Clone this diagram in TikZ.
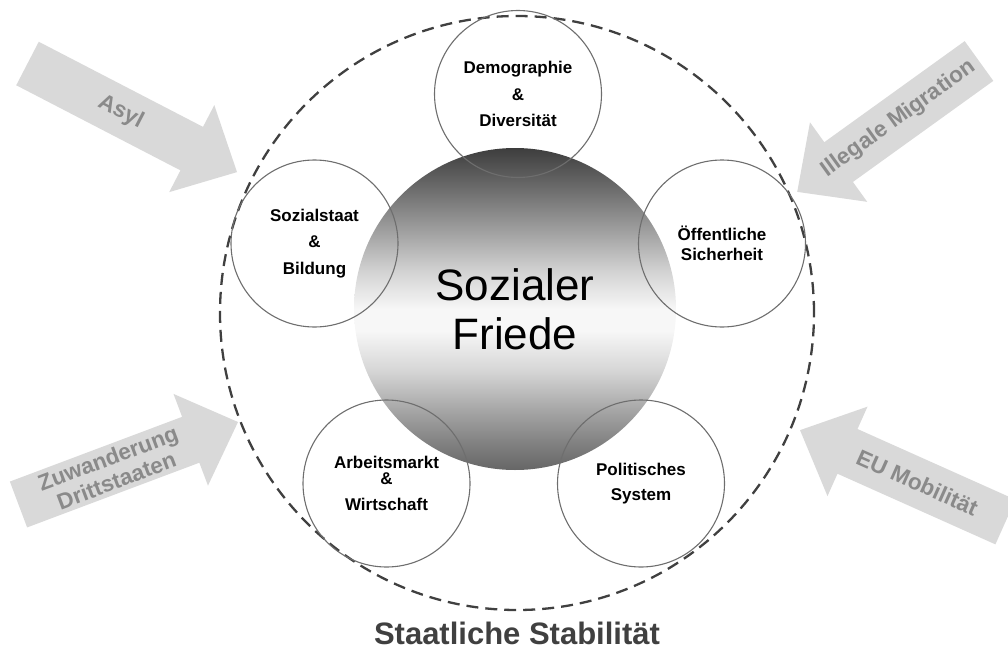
\documentclass[tikz,border=0pt]{standalone}
\usepackage{fontspec}
\setmainfont{Liberation Sans}
\usetikzlibrary{positioning}

\definecolor{pfeilgrau}{HTML}{D9D9D9}
\definecolor{pfeilschrift}{HTML}{8A8A8A}
\definecolor{randgrau}{HTML}{6E6E6E}
\definecolor{strichgrau}{HTML}{404040}

% dark at the top, white a bit above the middle, grey again at the bottom
\pgfdeclareverticalshading{friede}{100bp}{color(0bp)=(black!60); color(25bp)=(black!60);
  color(29.7bp)=(black!48); color(34.3bp)=(black!35); color(40.5bp)=(black!16);
  color(46.7bp)=(black!3); color(50bp)=(black!3); color(56bp)=(black!18);
  color(62.3bp)=(black!38); color(68.5bp)=(black!57); color(75bp)=(black!76);
  color(100bp)=(black!76)}

\begin{document}
\begin{tikzpicture}[x=1pt,y=-1pt,
  thema/.style={circle, draw=randgrau, line width=1.1pt, minimum size=167pt, inner sep=0pt,
    align=center, font=\bfseries\fontsize{17}{26.5}\selectfont},
  pfeil/.style={fill=pfeilgrau},
  pfeiltext/.style={text=pfeilschrift, align=center, transform shape, inner sep=0pt,
    font=\bfseries\fontsize{22.5}{24}\selectfont}]
  \useasboundingbox (0,0) rectangle (1008,650);
  \clip (0,0) rectangle (1008,650);

  % arrows from outside
  \begin{scope}[shift={(27.5,63.5)}, rotate=-27.4]
    \fill[pfeil] (0,-24.5) -- (185,-24.5) -- (185,-49) -- (236,0) -- (185,49) -- (185,24.5) -- (0,24.5) -- cycle;
    \node[pfeiltext] (asyl) at (105,0) {Asyl};
  \end{scope}
  \begin{scope}[shift={(979,61)}, rotate=215.75]
    \fill[pfeil] (0,-24.5) -- (173,-24.5) -- (173,-49) -- (224,0) -- (173,49) -- (173,24.5) -- (0,24.5) -- cycle;
    \node[pfeiltext, rotate=180] (illegal) at (99,0) {Illegale Migration};
  \end{scope}
  \begin{scope}[shift={(18.5,504.5)}, rotate=20.6]
    \fill[pfeil] (0,-24.5) -- (184,-24.5) -- (184,-49) -- (234.5,0) -- (184,49) -- (184,24.5) -- (0,24.5) -- cycle;
    \node[pfeiltext] (zuwand) at (100,0) {Zuwanderung\\Drittstaaten};
  \end{scope}
  \begin{scope}[shift={(1005.4,522)}, rotate=155.9]
    \fill[pfeil] (0,-24.5) -- (173,-24.5) -- (173,-49) -- (225,0) -- (173,49) -- (173,24.5) -- (0,24.5) -- cycle;
    \node[pfeiltext, rotate=180] (eu) at (96.5,0) {EU Mobilität};
  \end{scope}

  % dashed ring
  \node[circle, draw=strichgrau, line width=2.3pt, dash pattern=on 12pt off 7pt,
    minimum size=594pt, inner sep=0pt] (staat) at (517,313) {};
  \node[below=11pt of staat, inner sep=0pt, text=strichgrau,
    font=\bfseries\fontsize{31}{31}\selectfont] (stabil) {Staatliche Stabilität};

  % centre
  \node[circle, shading=friede, minimum size=322pt, inner sep=0pt, align=center,
    font=\fontsize{44}{49}\selectfont] (friede) at (515,309) {Sozialer\\Friede};

  % five topics
  \node[thema] (demo) at (518,94) {Demographie\\\&\\Diversität};
  \node[thema] (sozial) at (314.5,243.5) {Sozialstaat\\\&\\Bildung};
  \node[thema] (sicher) at (722,243.5) {Öffentliche\\[-6.5pt]Sicherheit};
  \node[thema] (arbeit) at (386.5,483.5) {Arbeitsmarkt\\[-10.5pt]\&\\Wirtschaft};
  \node[thema] (politik) at (641,483.5) {Politisches\\[-1.5pt]System};
\end{tikzpicture}
\end{document}
